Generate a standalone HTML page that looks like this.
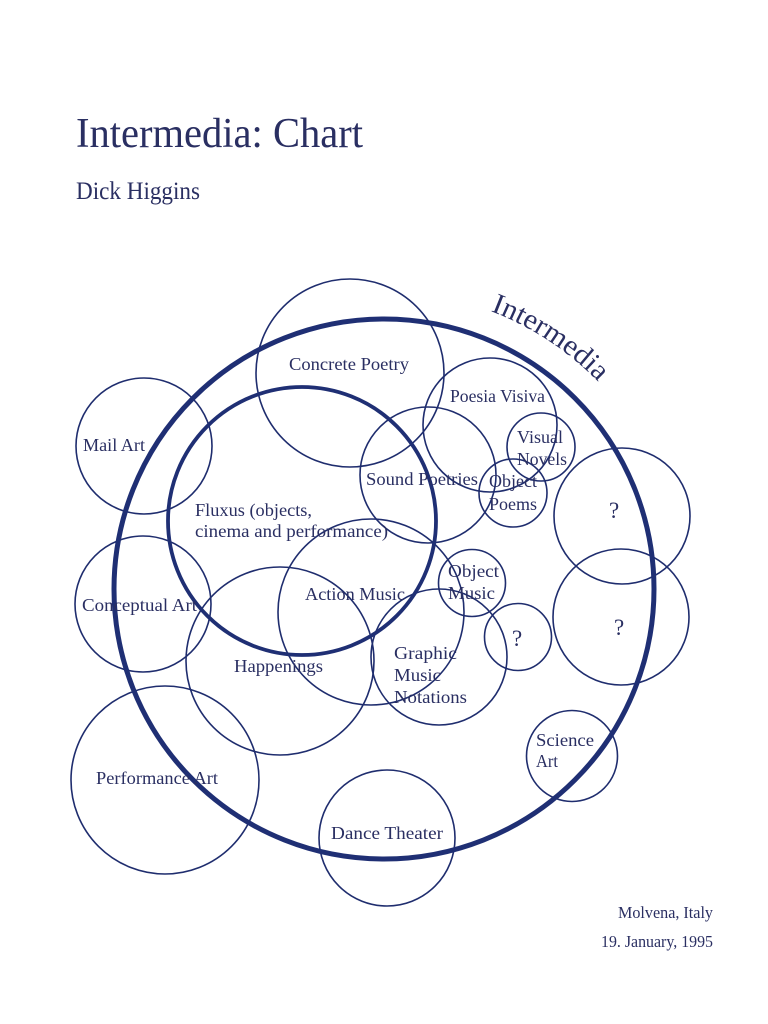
<!DOCTYPE html>
<html>
<head>
<meta charset="utf-8">
<style>
  html, body { margin: 0; padding: 0; background: #ffffff; }
  body { width: 768px; height: 1024px; overflow: hidden; }
  svg { display: block; }
  .t { font-family: "Liberation Serif", "DejaVu Serif", serif; fill: #2a2f62; }
  .c { fill: none; stroke: #1f2d6e; stroke-width: 1.6; }
</style>
</head>
<body>
<svg width="768" height="1024" viewBox="0 0 768 1024" xmlns="http://www.w3.org/2000/svg">
  <rect x="0" y="0" width="768" height="1024" fill="#ffffff"/>

  <!-- Title -->
  <text class="t" x="76" y="147" font-size="42" textLength="287" lengthAdjust="spacingAndGlyphs">Intermedia: Chart</text>
  <text class="t" x="76" y="199" font-size="25" textLength="124" lengthAdjust="spacingAndGlyphs">Dick Higgins</text>

  <!-- Thin circles -->
  <circle class="c" cx="350" cy="373" r="94"/>   <!-- Concrete Poetry -->
  <circle class="c" cx="490" cy="425" r="67"/>   <!-- Poesia Visiva -->
  <circle class="c" cx="541" cy="447" r="34"/>   <!-- Visual Novels -->
  <circle class="c" cx="428" cy="475" r="68"/>   <!-- Sound Poetries -->
  <circle class="c" cx="513" cy="493" r="34"/>   <!-- Object Poems -->
  <circle class="c" cx="144" cy="446" r="68"/>   <!-- Mail Art -->
  <circle class="c" cx="143" cy="604" r="68"/>   <!-- Conceptual Art -->
  <circle class="c" cx="371" cy="612" r="93"/>   <!-- Action Music -->
  <circle class="c" cx="280" cy="661" r="94"/>   <!-- Happenings -->
  <circle class="c" cx="472" cy="583" r="33.5"/> <!-- Object Music -->
  <circle class="c" cx="518" cy="637" r="33.5"/> <!-- small ? -->
  <circle class="c" cx="622" cy="516" r="68"/>   <!-- ? top right -->
  <circle class="c" cx="621" cy="617" r="68"/>   <!-- ? lower right -->
  <circle class="c" cx="439" cy="657" r="68"/>   <!-- Graphic Music Notations -->
  <circle class="c" cx="165" cy="780" r="94"/>   <!-- Performance Art -->
  <circle class="c" cx="387" cy="838" r="68"/>   <!-- Dance Theater -->
  <circle class="c" cx="572" cy="756" r="45.5"/> <!-- Science Art -->

  <!-- Thick circles -->
  <circle cx="384" cy="589" r="270" fill="none" stroke="#1f2f74" stroke-width="5"/>
  <circle cx="302" cy="521" r="134" fill="none" stroke="#1f2f74" stroke-width="3.8"/>

  <!-- Curved label -->
  <defs>
    <path id="arc" d="M490.5,311 A299,299 0 0 1 612.5,397.5"/>
  </defs>
  <text class="t" font-size="29"><textPath href="#arc" textLength="130" lengthAdjust="spacingAndGlyphs">Intermedia</textPath></text>

  <!-- Labels -->
  <g font-size="17.5">
    <text class="t" x="289" y="370" textLength="120" lengthAdjust="spacingAndGlyphs">Concrete Poetry</text>
    <text class="t" x="450" y="402" textLength="95" lengthAdjust="spacingAndGlyphs">Poesia Visiva</text>
    <text class="t" x="517" y="443" textLength="46" lengthAdjust="spacingAndGlyphs">Visual</text>
    <text class="t" x="517" y="465" textLength="50" lengthAdjust="spacingAndGlyphs">Novels</text>
    <text class="t" x="366" y="485" textLength="112" lengthAdjust="spacingAndGlyphs">Sound Poetries</text>
    <text class="t" x="489" y="487" textLength="48" lengthAdjust="spacingAndGlyphs">Object</text>
    <text class="t" x="489" y="510" textLength="48" lengthAdjust="spacingAndGlyphs">Poems</text>
    <text class="t" x="83" y="451" textLength="62" lengthAdjust="spacingAndGlyphs">Mail Art</text>
    <text class="t" x="195" y="516" textLength="117" lengthAdjust="spacingAndGlyphs">Fluxus (objects,</text>
    <text class="t" x="195" y="537" textLength="193" lengthAdjust="spacingAndGlyphs">cinema and performance)</text>
    <text class="t" x="82" y="611" textLength="115" lengthAdjust="spacingAndGlyphs">Conceptual Art</text>
    <text class="t" x="305" y="600" textLength="100" lengthAdjust="spacingAndGlyphs">Action Music</text>
    <text class="t" x="448" y="577" textLength="51" lengthAdjust="spacingAndGlyphs">Object</text>
    <text class="t" x="448" y="599" textLength="47" lengthAdjust="spacingAndGlyphs">Music</text>
    <text class="t" x="234" y="672" textLength="89" lengthAdjust="spacingAndGlyphs">Happenings</text>
    <text class="t" x="394" y="659" textLength="63" lengthAdjust="spacingAndGlyphs">Graphic</text>
    <text class="t" x="394" y="681" textLength="47" lengthAdjust="spacingAndGlyphs">Music</text>
    <text class="t" x="394" y="703" textLength="73" lengthAdjust="spacingAndGlyphs">Notations</text>
    <text class="t" x="96" y="784" textLength="122" lengthAdjust="spacingAndGlyphs">Performance Art</text>
    <text class="t" x="331" y="839" textLength="112" lengthAdjust="spacingAndGlyphs">Dance Theater</text>
    <text class="t" x="536" y="746" textLength="58" lengthAdjust="spacingAndGlyphs">Science</text>
    <text class="t" x="536" y="767" textLength="22" lengthAdjust="spacingAndGlyphs">Art</text>
  </g>

  <!-- Question marks -->
  <g font-size="23">
    <text class="t" x="609" y="518">?</text>
    <text class="t" x="614" y="635">?</text>
    <text class="t" x="512" y="646">?</text>
  </g>

  <!-- Footer -->
  <text class="t" x="618" y="918" font-size="16.5" textLength="95" lengthAdjust="spacingAndGlyphs">Molvena, Italy</text>
  <text class="t" x="601" y="947" font-size="16.5" textLength="112" lengthAdjust="spacingAndGlyphs">19. January, 1995</text>
</svg>
</body>
</html>
